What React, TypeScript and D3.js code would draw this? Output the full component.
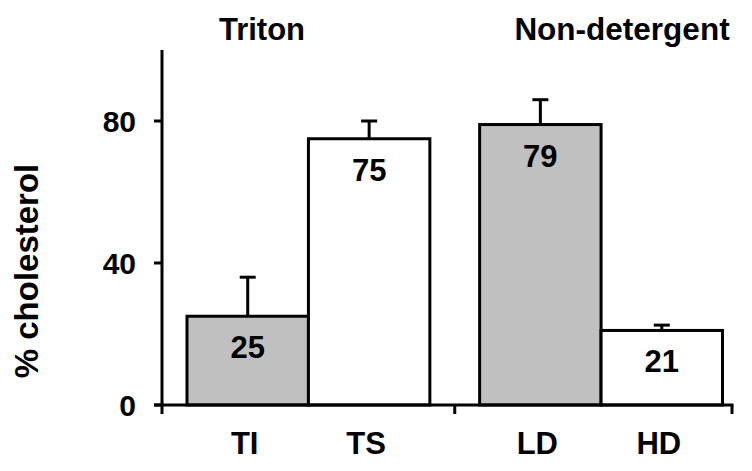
import React from "react";
import * as d3 from "d3";

const categories = ["TI", "TS", "LD", "HD"];
const groupOfCategory = [0, 0, 1, 1];
const groupTitles = ["Triton", "Non-detergent"];
const values = [25, 75, 79, 21];
const errors = [11, 5, 7, 1.5];
const fills = ["#c0c0c0", "#ffffff", "#c0c0c0", "#ffffff"];
const yTicks = [0, 40, 80];
const yLabel = "% cholesterol";

const W = 752;
const H = 471;
const FONT = "'Liberation Sans', Arial, Helvetica, sans-serif";
const GAP = 0.41;

export default function App() {
  const y = d3.scaleLinear().domain([0, 100]).range([405, 50]);
  const x = d3.scaleLinear().domain([0, 4 + GAP]).range([187, 722.5]);
  const pos = (i: number) => i + groupOfCategory[i] * GAP;
  const axisLeft = 162;
  const axisRight = 732;
  const midTick = (x(2) + x(2 + GAP)) / 2;
  const capHalf = 8;

  return (
    <svg
      width={W}
      height={H}
      style={{ position: "absolute", left: 0, top: 0, background: "#fff" }}
      fontFamily={FONT}
      fontWeight="bold"
    >
      <rect x={0} y={0} width={W} height={H} fill="#fff" />
      {/* error bars */}
      {values.map((v, i) => {
        const cx = x(pos(i) + 0.5);
        return (
          <g key={"e" + i} stroke="#000" strokeWidth={3}>
            <line x1={cx} x2={cx} y1={y(v)} y2={y(v + errors[i])} />
            <line x1={cx - capHalf} x2={cx + capHalf} y1={y(v + errors[i])} y2={y(v + errors[i])} />
          </g>
        );
      })}
      {/* bars */}
      {values.map((v, i) => (
        <rect
          key={"b" + i}
          x={x(pos(i))}
          y={y(v)}
          width={x(pos(i) + 1) - x(pos(i))}
          height={y(0) - y(v)}
          fill={fills[i]}
          stroke="#000"
          strokeWidth={3}
        />
      ))}
      {/* value labels */}
      {values.map((v, i) => (
        <text
          key={"v" + i}
          x={x(pos(i) + 0.5)}
          y={y(v) + 42}
          textAnchor="middle"
          fontSize={31}
          fill="#000"
        >
          {v}
        </text>
      ))}
      {/* y axis */}
      <line x1={axisLeft} x2={axisLeft} y1={y(100)} y2={y(0) + 9} stroke="#000" strokeWidth={3} />
      {yTicks.map((t) => (
        <g key={"yt" + t}>
          <line x1={axisLeft - 8} x2={axisLeft} y1={y(t)} y2={y(t)} stroke="#000" strokeWidth={3} />
          <text x={axisLeft - 26} y={y(t) + 11} textAnchor="end" fontSize={30} fill="#000">
            {t}
          </text>
        </g>
      ))}
      {/* x axis */}
      <line x1={axisLeft - 8} x2={axisRight + 1.5} y1={y(0)} y2={y(0)} stroke="#000" strokeWidth={3} />
      <line x1={midTick} x2={midTick} y1={y(0)} y2={y(0) + 9} stroke="#000" strokeWidth={3} />
      <line x1={axisRight} x2={axisRight} y1={y(0)} y2={y(0) + 9} stroke="#000" strokeWidth={3} />
      {categories.map((c, i) => (
        <text key={"c" + i} x={x(pos(i) + 0.5) - 3} y={454} textAnchor="middle" fontSize={31} fill="#000">
          {c}
        </text>
      ))}
      {/* group titles */}
      <text x={262} y={40} textAnchor="middle" fontSize={31} fill="#000">
        {groupTitles[0]}
      </text>
      <text x={622} y={40} textAnchor="middle" fontSize={31.5} fill="#000">
        {groupTitles[1]}
      </text>
      {/* y label */}
      <text
        transform={`translate(38, 271) rotate(-90)`}
        textAnchor="middle"
        fontSize={33}
        fill="#000"
      >
        {yLabel}
      </text>
    </svg>
  );
}
